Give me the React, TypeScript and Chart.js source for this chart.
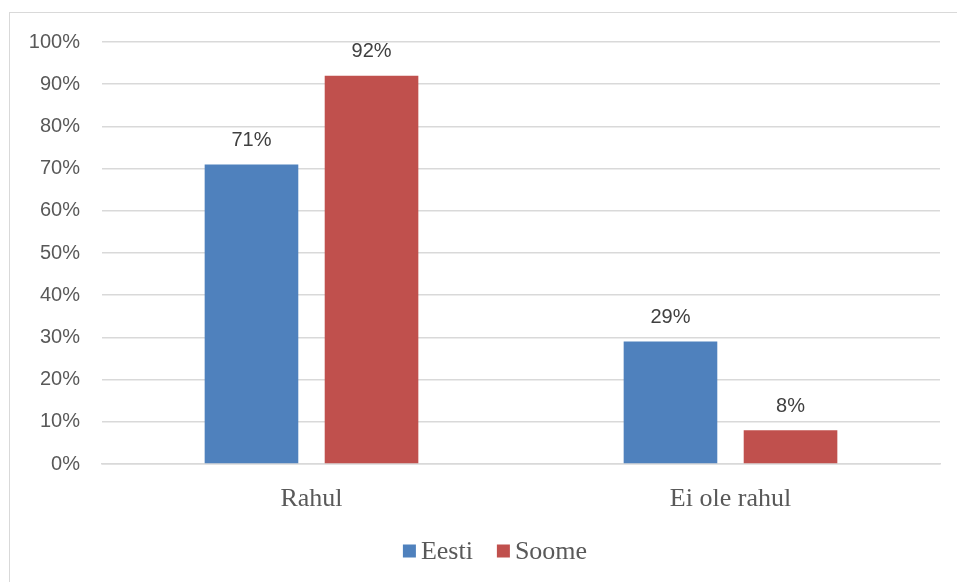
import React, { useEffect, useRef } from "react";
import { Chart, registerables } from "chart.js";

Chart.register(...registerables);

const categories = ["Rahul", "Ei ole rahul"];
const seriesNames = ["Eesti", "Soome"];
const eestiValues = [71, 29];
const soomeValues = [92, 8];
const seriesColors = ["#4F81BD", "#C0504D"];

const SERIF = '"Liberation Serif", "Times New Roman", serif';
const SANS = '"Liberation Sans", "Open Sans", sans-serif';

const dataLabelPlugin = {
  id: "dataLabels",
  afterDatasetsDraw(chart: any) {
    const ctx = chart.ctx;
    ctx.save();
    ctx.font = "20px " + SANS;
    ctx.fillStyle = "#404040";
    ctx.textAlign = "center";
    ctx.textBaseline = "middle";
    chart.data.datasets.forEach((ds: any, i: number) => {
      const meta = chart.getDatasetMeta(i);
      meta.data.forEach((bar: any, j: number) => {
        ctx.fillText(ds.data[j] + "%", bar.x, bar.y - 24);
      });
    });
    ctx.restore();
  },
};

const legendPlugin = {
  id: "customLegend",
  afterDraw(chart: any) {
    const ctx = chart.ctx;
    ctx.save();
    ctx.font = "26px " + SERIF;
    ctx.textBaseline = "middle";
    ctx.textAlign = "left";
    const box = 13;
    const gapBox = 5;
    const gapItem = 24;
    const items = chart.data.datasets.map((ds: any) => ({
      label: ds.label,
      color: ds.backgroundColor,
      w: box + gapBox + ctx.measureText(ds.label).width,
    }));
    const total = items.reduce((a: number, it: any) => a + it.w, 0) + gapItem * (items.length - 1);
    let x = 495 - total / 2;
    const cy = 551;
    items.forEach((it: any) => {
      ctx.fillStyle = it.color;
      ctx.fillRect(x, cy - box / 2, box, box);
      ctx.fillStyle = "#595959";
      ctx.fillText(it.label, x + box + gapBox, cy + 1);
      x += it.w + gapItem;
    });
    ctx.restore();
  },
};

export default function App() {
  const ref = useRef<HTMLCanvasElement>(null);
  useEffect(() => {
    if (!ref.current) return;
    const chart = new Chart(ref.current, {
      type: "bar",
      data: {
        labels: categories,
        datasets: [
          { label: seriesNames[0], data: eestiValues, backgroundColor: seriesColors[0] },
          { label: seriesNames[1], data: soomeValues, backgroundColor: seriesColors[1] },
        ],
      },
      options: {
        animation: false,
        responsive: false,
        maintainAspectRatio: false,
        layout: { padding: { left: 0, top: 42, right: 17, bottom: 67 } },
        datasets: { bar: { categoryPercentage: 0.573, barPercentage: 0.78 } },
        scales: {
          x: {
            grid: { display: false, drawTicks: false },
            border: { display: true, color: "#D9D9D9", width: 1.5 },
            ticks: {
              color: "#595959",
              padding: 20,
              font: { family: SERIF, size: 26 },
            },
            afterFit: (s: any) => { s.height = 51; },
          },
          y: {
            min: 0,
            max: 100,
            grid: { color: "#D9D9D9", lineWidth: 1.5, drawTicks: false },
            border: { display: false },
            ticks: {
              stepSize: 10,
              padding: 22,
              color: "#595959",
              font: { family: SANS, size: 20 },
              callback: (v: any) => v + "%",
            },
            afterFit: (s: any) => { s.width = 102; },
          },
        },
        plugins: {
          legend: { display: false },
          tooltip: { enabled: false },
        },
      },
      plugins: [dataLabelPlugin, legendPlugin],
    });
    return () => chart.destroy();
  }, []);
  return (
    <div style={{ position: "fixed", left: 0, top: 0, width: 957, height: 582, background: "#fff", overflow: "hidden" }}>
      <div style={{ position: "absolute", left: 9, top: 12, width: 1000, height: 1000, border: "1.5px solid #D9D9D9" }} />
      <canvas ref={ref} width={957} height={582} style={{ position: "absolute", left: 0, top: 0 }} />
    </div>
  );
}
